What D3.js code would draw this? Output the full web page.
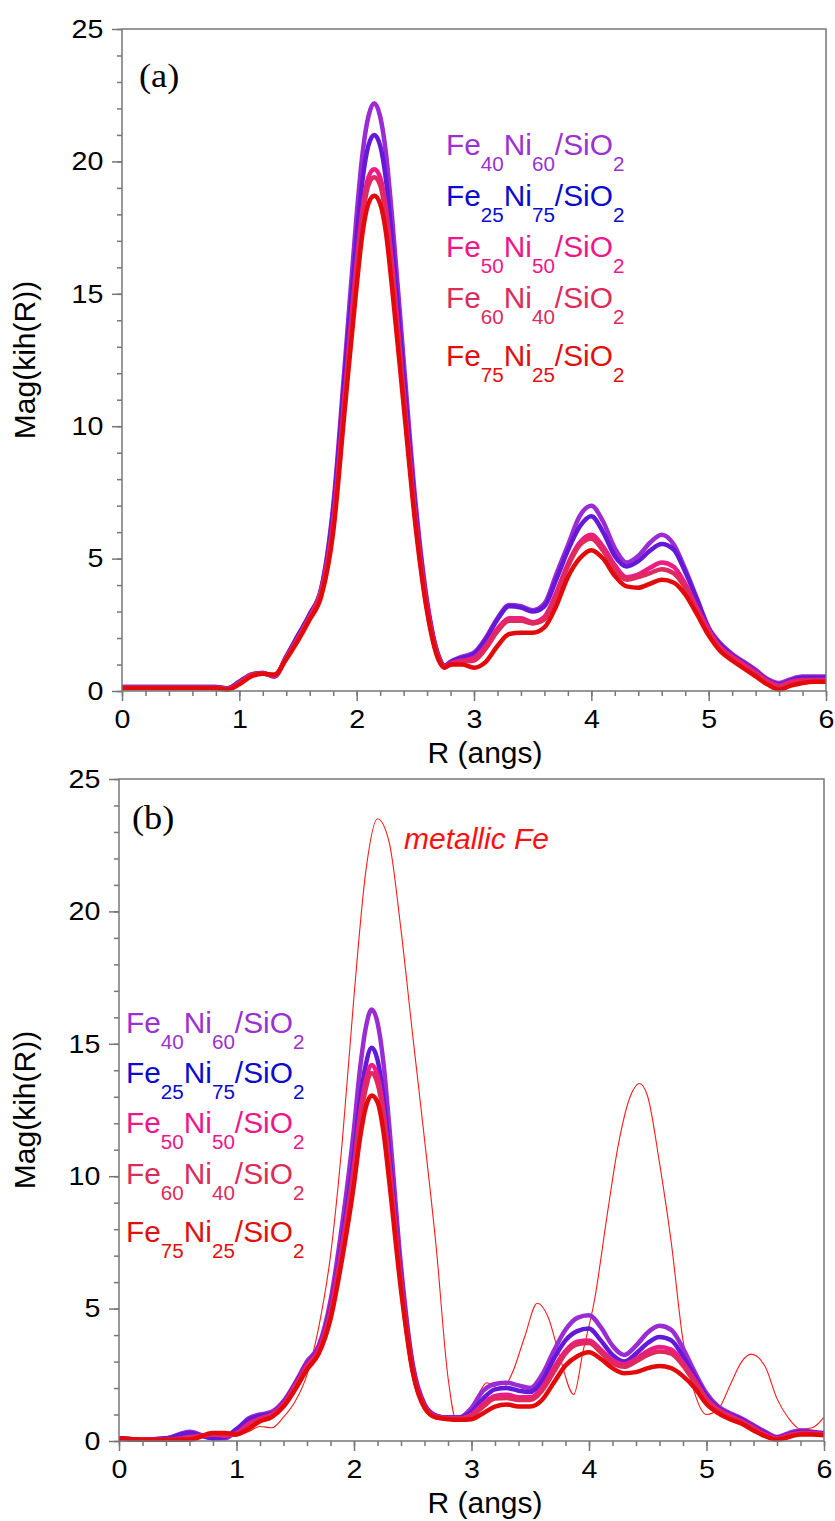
<!DOCTYPE html>
<html><head><meta charset="utf-8">
<script src="https://cdn.jsdelivr.net/npm/d3@7"></script>
<style>
body{margin:0;background:#fff;}
svg{display:block;}
</style></head><body>
<svg id="chart" width="835" height="1521"></svg>
<script>
// ---------- data ----------
const rGrid = [0,0.2,0.4,0.6,0.8,0.9,1.0,1.1,1.2,1.3,1.4,1.5,1.6,1.7,1.8,1.9,2.0,2.05,2.1,2.15,2.2,2.25,2.3,2.4,2.5,2.6,2.7,2.75,2.8,2.9,3.0,3.1,3.2,3.3,3.4,3.5,3.6,3.7,3.8,3.9,4.0,4.1,4.2,4.3,4.4,4.5,4.6,4.7,4.8,4.9,5.0,5.1,5.2,5.3,5.4,5.5,5.6,5.7,5.8,5.9,6.0];

const seriesLabels = [["Fe","40","Ni","60","/SiO","2"],["Fe","25","Ni","75","/SiO","2"],["Fe","50","Ni","50","/SiO","2"],["Fe","60","Ni","40","/SiO","2"],["Fe","75","Ni","25","/SiO","2"]];
const lineColors = ["#9B2BD3","#6419D8","#EE1A86","#DF2A60","#E20A0A"];
const textColors = ["#9A32D0","#0A0AD0","#F0168A","#DC2C5C","#E01010"];

// panel (a)
const a_Fe40Ni60 = [0.15,0.15,0.15,0.15,0.15,0.1,0.35,0.62,0.68,0.55,1.3,2.1,2.9,3.9,7.0,12.4,18.0,20.3,21.7,22.2,21.7,20.3,18.0,12.5,7.2,3.4,1.3,0.95,1.1,1.3,1.45,2.0,2.75,3.25,3.2,3.05,3.3,4.4,5.5,6.6,7.0,6.4,5.4,4.85,5.1,5.6,5.9,5.55,4.6,3.5,2.4,1.8,1.4,1.1,0.8,0.45,0.3,0.45,0.55,0.55,0.55];
const a_Fe25Ni75 = [0.15,0.15,0.15,0.15,0.15,0.1,0.35,0.62,0.68,0.55,1.3,2.1,2.9,3.9,6.8,12.0,17.1,19.3,20.6,21.0,20.6,19.3,17.1,11.9,6.9,3.3,1.3,0.95,1.1,1.25,1.4,1.95,2.7,3.2,3.15,3.0,3.2,4.2,5.3,6.2,6.6,6.0,5.1,4.7,4.9,5.3,5.55,5.35,4.5,3.45,2.35,1.75,1.35,1.05,0.75,0.42,0.25,0.4,0.5,0.5,0.5];
const a_Fe50Ni50 = [0.12,0.12,0.12,0.12,0.12,0.08,0.3,0.6,0.66,0.58,1.25,2.0,2.8,3.8,6.4,11.3,16.2,18.2,19.4,19.7,19.4,18.2,16.2,11.3,6.6,3.2,1.25,0.92,1.05,1.15,1.25,1.7,2.35,2.75,2.75,2.6,2.8,3.7,4.8,5.6,5.9,5.45,4.75,4.3,4.4,4.65,4.85,4.7,4.05,3.15,2.3,1.65,1.3,1.0,0.7,0.38,0.2,0.35,0.42,0.42,0.42];
const a_Fe60Ni40 = [0.12,0.12,0.12,0.12,0.12,0.08,0.3,0.6,0.66,0.58,1.25,2.0,2.8,3.8,6.3,11.1,15.9,17.9,19.1,19.4,19.1,17.9,15.9,11.1,6.5,3.1,1.2,0.9,1.0,1.1,1.15,1.6,2.25,2.65,2.65,2.55,2.7,3.6,4.7,5.5,5.75,5.3,4.6,4.2,4.3,4.45,4.6,4.45,3.9,3.05,2.2,1.6,1.25,0.95,0.65,0.35,0.15,0.3,0.38,0.4,0.4];
const a_Fe75Ni25 = [0.1,0.1,0.1,0.1,0.1,0.05,0.25,0.55,0.65,0.62,1.2,1.9,2.7,3.6,6.0,10.7,15.3,17.3,18.4,18.7,18.4,17.3,15.3,10.8,6.3,3.0,1.15,0.88,1.0,1.0,0.88,1.1,1.7,2.15,2.2,2.2,2.4,3.2,4.3,5.0,5.32,5.0,4.35,3.95,3.9,4.05,4.2,4.1,3.65,2.9,2.1,1.5,1.15,0.85,0.55,0.25,0.05,0.2,0.3,0.35,0.35];

// panel (b)
const b_Fe40Ni60 = [0.1,0.05,0.1,0.35,0.1,0.1,0.4,0.85,1.0,1.1,1.5,2.2,3.0,3.6,5.3,8.2,11.8,14.0,15.6,16.3,15.8,14.3,11.9,6.6,2.9,1.4,0.95,0.9,0.9,0.9,1.25,1.9,2.15,2.2,2.1,2.0,2.5,3.4,4.2,4.65,4.75,4.3,3.6,3.25,3.6,4.1,4.35,4.2,3.5,2.6,1.8,1.3,1.05,0.85,0.6,0.35,0.15,0.3,0.4,0.35,0.3];
const b_Fe25Ni75 = [0.1,0.05,0.1,0.3,0.1,0.15,0.45,0.8,0.95,1.05,1.45,2.15,2.9,3.5,5.0,7.6,10.8,12.8,14.2,14.85,14.4,13.0,10.9,6.2,2.8,1.35,0.95,0.9,0.88,0.88,1.1,1.6,1.95,2.0,1.9,1.85,2.25,3.1,3.8,4.15,4.25,3.8,3.25,3.0,3.3,3.7,3.93,3.8,3.2,2.45,1.7,1.25,1.0,0.8,0.55,0.3,0.12,0.25,0.35,0.32,0.28];
const b_Fe50Ni50 = [0.08,0.05,0.05,0.15,0.25,0.2,0.3,0.65,0.85,1.0,1.4,2.1,2.85,3.45,4.9,7.4,10.4,12.3,13.6,14.2,13.8,12.5,10.5,6.0,2.7,1.3,0.92,0.88,0.85,0.85,1.0,1.4,1.7,1.75,1.65,1.65,2.0,2.75,3.4,3.75,3.8,3.45,3.05,2.9,3.1,3.4,3.55,3.45,2.95,2.3,1.6,1.2,0.95,0.75,0.5,0.25,0.1,0.22,0.3,0.3,0.25];
const b_Fe60Ni40 = [0.08,0.05,0.05,0.1,0.25,0.25,0.25,0.55,0.8,0.95,1.35,2.05,2.8,3.4,4.8,7.2,10.2,12.0,13.3,13.9,13.5,12.3,10.3,5.9,2.65,1.3,0.9,0.88,0.85,0.85,0.95,1.3,1.6,1.62,1.55,1.55,1.9,2.6,3.3,3.65,3.7,3.35,2.95,2.8,3.0,3.25,3.38,3.3,2.85,2.2,1.55,1.15,0.9,0.7,0.45,0.2,0.08,0.2,0.28,0.28,0.25];
const b_Fe75Ni25 = [0.1,0.05,0.05,0.05,0.3,0.3,0.25,0.45,0.75,0.9,1.3,1.95,2.7,3.3,4.6,6.9,9.7,11.4,12.6,13.05,12.8,11.7,9.8,5.7,2.6,1.25,0.88,0.85,0.82,0.8,0.82,1.05,1.3,1.38,1.3,1.3,1.55,2.2,2.85,3.2,3.35,3.1,2.75,2.56,2.6,2.75,2.83,2.75,2.45,2.0,1.4,1.05,0.82,0.65,0.4,0.18,0.05,0.15,0.25,0.25,0.22];

// metallic Fe reference (panel b)
const rFe = [0,0.1,0.2,0.3,0.4,0.5,0.6,0.7,0.8,0.9,1.0,1.1,1.2,1.3,1.4,1.5,1.6,1.7,1.8,1.9,2.0,2.1,2.2,2.3,2.4,2.5,2.6,2.7,2.8,2.87,2.95,3.05,3.13,3.2,3.26,3.35,3.45,3.56,3.65,3.75,3.87,3.95,4.05,4.15,4.25,4.35,4.43,4.5,4.6,4.7,4.8,4.9,5.0,5.1,5.2,5.3,5.38,5.5,5.6,5.7,5.8,5.9,6.0];
const vFe = [0.1,0.05,0.05,0.1,0.05,0.05,0.15,0.2,0.1,0.15,0.2,0.35,0.55,0.5,0.9,1.5,2.5,4.3,7.0,11.3,16.8,21.5,23.5,22.6,19.3,15.3,11.4,7.3,2.4,0.8,1.0,1.7,2.2,2.05,1.95,2.6,3.9,5.2,4.7,3.2,1.76,3.4,5.4,8.4,11.2,13.0,13.5,13.0,10.5,7.5,3.8,1.8,1.0,1.2,2.1,3.0,3.28,2.8,1.6,0.85,0.45,0.5,0.9];

const xTicks = [0,1,2,3,4,5,6];
const yTicks = [0,5,10,15,20,25];

// ---------- drawing ----------
const svg = d3.select("#chart");
const SANS = "'Liberation Sans', Arial, sans-serif";
const AXIS = "#777";

function drawPanel(cfg) {
  const x = d3.scaleLinear().domain([0, 6]).range([cfg.left, cfg.right]);
  const y = d3.scaleLinear().domain([0, 25]).range([cfg.bottom, cfg.top]);
  const g = svg.append("g");

  // curves
  const line = d3.line().x((d, i) => x(rGrid[i])).y(d => y(d)).curve(d3.curveMonotoneX);
  if (cfg.ref) {
    const lf = d3.line().x((d, i) => x(rFe[i])).y(d => y(d)).curve(d3.curveMonotoneX);
    g.append("path").attr("d", lf(cfg.ref)).attr("fill", "none")
      .attr("stroke", "#FF1A1A").attr("stroke-width", 1.1);
  }
  cfg.series.forEach((s, i) => {
    g.append("path").attr("d", line(s)).attr("fill", "none")
      .attr("stroke", lineColors[i]).attr("stroke-width", 4.5)
      .attr("stroke-linejoin", "round");
  });

  // frame
  g.append("rect").attr("x", cfg.left).attr("y", cfg.top)
    .attr("width", cfg.right - cfg.left).attr("height", cfg.bottom - cfg.top)
    .attr("fill", "none").attr("stroke", AXIS).attr("stroke-width", 1.5);

  // minor ticks
  const mx = g.append("g").attr("transform", `translate(0,${cfg.bottom})`)
    .call(d3.axisBottom(x).tickValues(d3.range(0, 6.001, 0.2)).tickSize(5).tickFormat(""));
  const my = g.append("g").attr("transform", `translate(${cfg.left},0)`)
    .call(d3.axisLeft(y).tickValues(d3.range(0, 25.001, 1)).tickSize(5).tickFormat(""));
  // major ticks
  const ax = g.append("g").attr("transform", `translate(0,${cfg.bottom})`)
    .call(d3.axisBottom(x).tickValues(xTicks).tickSize(10).tickPadding(9).tickFormat(d3.format("d")));
  const ay = g.append("g").attr("transform", `translate(${cfg.left},0)`)
    .call(d3.axisLeft(y).tickValues(yTicks).tickSize(10).tickPadding(7).tickFormat(d3.format("d")));
  [mx, my, ax, ay].forEach(a => {
    a.select(".domain").remove();
    a.attr("color", AXIS);
    a.selectAll("line").attr("stroke-width", 1.5);
    a.selectAll("text").attr("fill", "#000").style("font-family", SANS).style("font-size", "26px")
      .attr("transform", "scale(1.1,1)");
  });

  // axis titles
  g.append("text").attr("x", 485).attr("y", cfg.bottom + 72).attr("text-anchor", "middle")
    .style("font-family", SANS).style("font-size", "30px").text("R (angs)");
  g.append("text").attr("transform", `translate(35,${(cfg.top + cfg.bottom) / 2}) rotate(-90)`)
    .attr("text-anchor", "middle").style("font-family", SANS).style("font-size", "30px")
    .text("Mag(kih(R))");

  // panel tag
  g.append("text").attr("transform", `translate(${cfg.tagX},${cfg.tagY}) scale(1.1,1)`)
    .style("font-family", "'Liberation Serif', 'Times New Roman', serif").style("font-size", "33px")
    .text(cfg.tag);

  // legend
  cfg.legendY.forEach((ly, i) => {
    const parts = seriesLabels[i];
    const t = g.append("text").attr("transform", `translate(${cfg.legendX},${ly}) scale(1.03,1)`)
      .attr("fill", textColors[i]).style("font-family", SANS).style("font-size", "29px");
    parts.forEach((p, k) => {
      const sub = k % 2 === 1;
      t.append("tspan").attr("dy", sub ? 16 : (k === 0 ? 0 : -16))
        .style("font-size", sub ? "20px" : "29px").text(p);
    });
  });

  return { x, y, g };
}

drawPanel({
  left: 122, right: 826, top: 29, bottom: 691,
  series: [a_Fe40Ni60, a_Fe25Ni75, a_Fe50Ni50, a_Fe60Ni40, a_Fe75Ni25],
  tag: "(a)", tagX: 139, tagY: 87,
  legendX: 446, legendY: [155, 206, 257, 308, 366]
});

const pb = drawPanel({
  left: 119, right: 824, top: 779, bottom: 1441,
  series: [b_Fe40Ni60, b_Fe25Ni75, b_Fe50Ni50, b_Fe60Ni40, b_Fe75Ni25],
  ref: vFe,
  tag: "(b)", tagX: 132, tagY: 829,
  legendX: 126, legendY: [1033, 1083, 1133, 1184, 1242]
});

pb.g.append("text").attr("x", 404).attr("y", 849)
  .attr("fill", "#FF1010").style("font-family", SANS).style("font-style", "italic")
  .style("font-size", "30px").text("metallic Fe");
</script>
</body></html>
